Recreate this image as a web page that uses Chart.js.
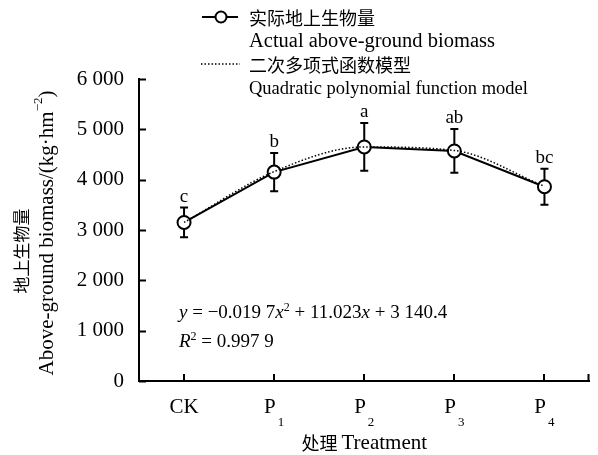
<!DOCTYPE html>
<html>
<head>
<meta charset="utf-8">
<script src="https://cdn.jsdelivr.net/npm/chart.js@4.4.1/dist/chart.umd.min.js"></script>
<style>
  html, body { margin: 0; padding: 0; background: #fff; }
  #wrap { width: 598px; height: 455px; position: relative; }
</style>
</head>
<body>
<div id="wrap"><canvas id="biomassChart"></canvas></div>
<script>
// Treatments and above-ground biomass (kg/hm2), mean and SD
const treatments = ['CK', 'P1', 'P2', 'P3', 'P4'];
const biomass = [3150, 4150, 4650, 4570, 3860];
const biomassSd = [295, 380, 475, 435, 356];
// Quadratic model values at each treatment
const fittedBiomass = [3150, 4160, 4650, 4580, 3870];
// Significance letters shown above the error bars
const sigLetters = ['c', 'b', 'a', 'ab', 'bc'];
const yTicks = [0, 1000, 2000, 3000, 4000, 5000, 6000];

const SERIF = '"Liberation Serif", "Times New Roman", serif';
const CJK = '"Noto Sans CJK SC", sans-serif';

function serif(size, italic) {
    return (italic ? 'italic ' : '') + size + 'px ' + SERIF;
}
function cjk(size) {
    return size + 'px ' + CJK;
}

// Draw text runs one after another, each with its own font and vertical shift
function drawRuns(ctx, runs, x, y, align) {
    let total = 0;
    runs.forEach(r => {
        ctx.font = r.font;
        r.w = ctx.measureText(r.text).width + (r.gap || 0);
        total += r.w;
    });
    let cx = align === 'center' ? x - total / 2 : x;
    ctx.textAlign = 'left';
    runs.forEach(r => {
        ctx.font = r.font;
        ctx.fillText(r.text, cx + (r.gap || 0), y + (r.dy || 0));
        cx += r.w;
    });
}

// 6000 -> "6 000"
function fmtThousands(v) {
    return String(v).replace(/\B(?=(\d{3})+(?!\d))/g, ' ');
}

const decorations = {
    id: 'decorations',
    beforeDatasetsDraw(chart) {
        const { ctx, scales: { x, y } } = chart;
        ctx.save();
        ctx.strokeStyle = '#000';
        ctx.fillStyle = '#000';
        ctx.lineWidth = 2;
        biomass.forEach((v, i) => {
            const px = x.getPixelForValue(i);
            const top = y.getPixelForValue(v + biomassSd[i]);
            const bot = y.getPixelForValue(v - biomassSd[i]);
            ctx.beginPath();
            ctx.moveTo(px, top); ctx.lineTo(px, bot);
            ctx.moveTo(px - 4, top); ctx.lineTo(px + 4, top);
            ctx.moveTo(px - 4, bot); ctx.lineTo(px + 4, bot);
            ctx.stroke();

            ctx.font = serif(19);
            ctx.textAlign = 'center';
            ctx.textBaseline = 'alphabetic';
            ctx.fillText(sigLetters[i], px, top - 6);
        });
        ctx.restore();
    },
    afterDraw(chart) {
        const { ctx, chartArea: area, scales: { x, y } } = chart;
        ctx.save();
        ctx.strokeStyle = '#000';
        ctx.fillStyle = '#000';
        ctx.lineWidth = 2;

        // inward tick marks
        ctx.beginPath();
        yTicks.forEach(v => {
            const py = Math.round(y.getPixelForValue(v)) + 0.5;
            ctx.moveTo(area.left, py);
            ctx.lineTo(area.left + 7, py);
        });
        treatments.forEach((t, i) => {
            const px = Math.round(x.getPixelForValue(i));
            ctx.moveTo(px, area.bottom);
            ctx.lineTo(px, area.bottom - 7);
        });
        ctx.moveTo(area.right - 1, area.bottom);
        ctx.lineTo(area.right - 1, area.bottom - 7);
        ctx.stroke();

        // category labels with subscripts (P1 -> P with subscript 1)
        ctx.textBaseline = 'alphabetic';
        treatments.forEach((t, i) => {
            const px = x.getPixelForValue(i);
            const main = t.replace(/\d+$/, '');
            const sub = t.slice(main.length);
            const runs = [{ text: main, font: serif(21) }];
            if (sub) runs.push({ text: sub, font: serif(13), dy: 13, gap: 2 });
            drawRuns(ctx, runs, px, 413, 'center');
        });

        // x axis title
        ctx.textBaseline = 'middle';
        drawRuns(ctx, [
            { text: '处理 ', font: cjk(18) },
            { text: 'Treatment', font: serif(21) }
        ], (area.left + area.right) / 2, 443, 'center');

        // y axis title, two rotated lines
        ctx.save();
        ctx.translate(22, 251);
        ctx.rotate(-Math.PI / 2);
        drawRuns(ctx, [{ text: '地上生物量', font: cjk(17) }], 0, 0, 'center');
        ctx.restore();

        ctx.save();
        ctx.translate(47, 233);
        ctx.rotate(-Math.PI / 2);
        drawRuns(ctx, [
            { text: 'Above-ground biomass/(kg·hm', font: serif(21) },
            { text: '−2', font: serif(13), dy: -8 },
            { text: ')', font: serif(21) }
        ], 0, 0, 'center');
        ctx.restore();

        // regression equation
        ctx.textBaseline = 'alphabetic';
        drawRuns(ctx, [
            { text: 'y', font: serif(19, true) },
            { text: ' = −0.019 7', font: serif(19) },
            { text: 'x', font: serif(19, true) },
            { text: '2', font: serif(12), dy: -7 },
            { text: ' + 11.023', font: serif(19) },
            { text: 'x', font: serif(19, true) },
            { text: ' + 3 140.4', font: serif(19) }
        ], 179, 318, 'left');
        drawRuns(ctx, [
            { text: 'R', font: serif(19, true) },
            { text: '2', font: serif(12), dy: -7 },
            { text: ' = 0.997 9', font: serif(19) }
        ], 179, 347, 'left');

        // legend
        ctx.lineWidth = 2;
        ctx.beginPath();
        ctx.moveTo(202, 17);
        ctx.lineTo(238, 17);
        ctx.stroke();
        ctx.beginPath();
        ctx.arc(221, 17, 5.5, 0, Math.PI * 2);
        ctx.fillStyle = '#fff';
        ctx.fill();
        ctx.stroke();
        ctx.fillStyle = '#000';

        ctx.lineWidth = 1.5;
        ctx.setLineDash([1.5, 2]);
        ctx.beginPath();
        ctx.moveTo(201, 64);
        ctx.lineTo(240, 64);
        ctx.stroke();
        ctx.setLineDash([]);

        ctx.textBaseline = 'middle';
        drawRuns(ctx, [{ text: '实际地上生物量', font: cjk(18) }], 249, 18, 'left');
        drawRuns(ctx, [{ text: 'Actual above-ground biomass', font: serif(20.5) }], 249, 42, 'left');
        drawRuns(ctx, [{ text: '二次多项式函数模型', font: cjk(18) }], 249, 65, 'left');
        drawRuns(ctx, [{ text: 'Quadratic polynomial function model', font: serif(18.5) }], 249, 89, 'left');

        ctx.restore();
    }
};

new Chart(document.getElementById('biomassChart'), {
    type: 'line',
    data: {
        labels: treatments,
        datasets: [
            {
                label: '二次多项式函数模型',
                data: fittedBiomass,
                borderColor: '#000',
                borderWidth: 1.5,
                borderDash: [1.5, 2],
                pointRadius: 0,
                cubicInterpolationMode: 'monotone',
                fill: false
            },
            {
                label: '实际地上生物量',
                data: biomass,
                borderColor: '#000',
                borderWidth: 2,
                pointRadius: 6.5,
                pointBackgroundColor: '#fff',
                pointBorderColor: '#000',
                pointBorderWidth: 2,
                tension: 0,
                fill: false
            }
        ]
    },
    options: {
        responsive: true,
        maintainAspectRatio: false,
        animation: false,
        layout: { padding: { top: 79, right: 5, left: 0, bottom: 0 } },
        plugins: {
            legend: { display: false },
            tooltip: { enabled: false }
        },
        scales: {
            x: {
                type: 'category',
                offset: true,
                grid: { display: false, drawTicks: false },
                border: { display: true, color: '#000', width: 2 },
                ticks: { display: false },
                afterFit(scale) { scale.height = 74; }
            },
            y: {
                min: 0,
                max: 6000,
                grid: { display: false, drawTicks: false },
                border: { display: true, color: '#000', width: 2 },
                ticks: {
                    stepSize: 1000,
                    padding: 15,
                    color: '#000',
                    font: { family: SERIF, size: 21 },
                    callback: v => fmtThousands(v)
                },
                afterFit(scale) { scale.width = 139; }
            }
        }
    },
    plugins: [decorations]
});
</script>
</body>
</html>
